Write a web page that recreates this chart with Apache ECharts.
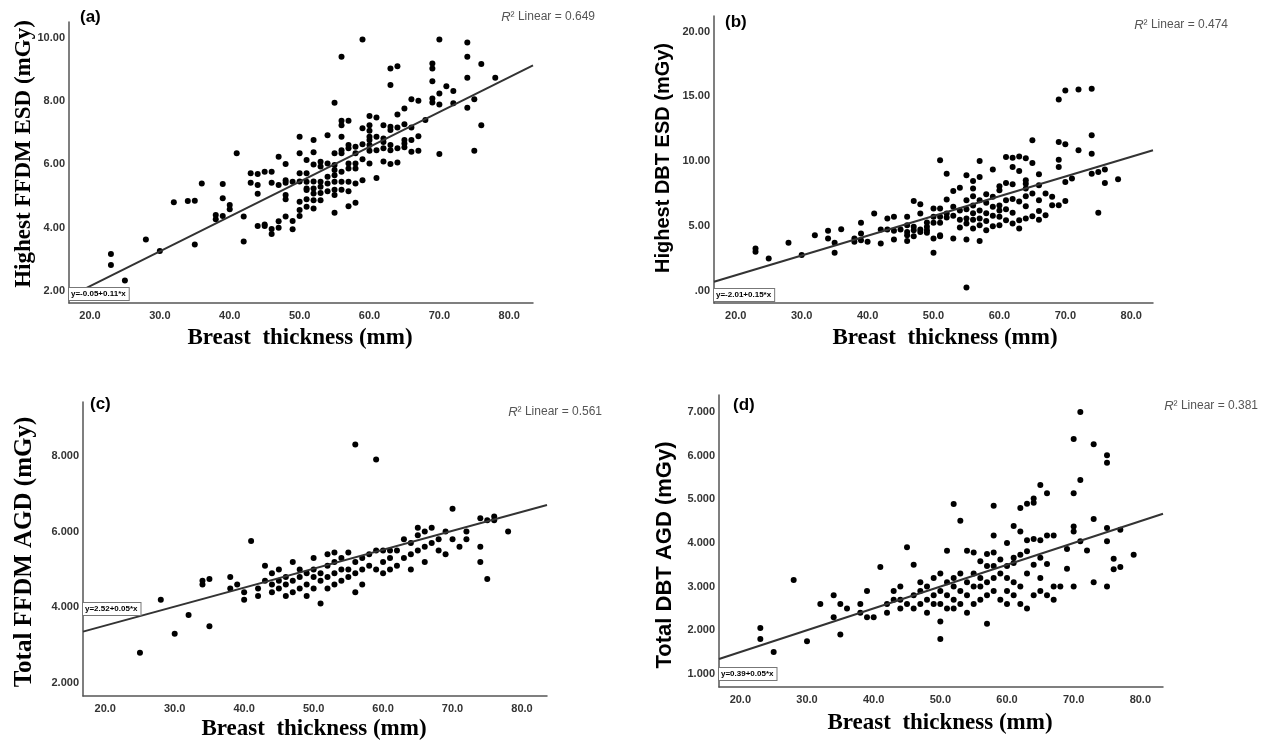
<!DOCTYPE html>
<html>
<head>
<meta charset="utf-8">
<title>Breast thickness vs dose</title>
<script src="https://cdn.jsdelivr.net/npm/echarts@6/dist/echarts.min.js"></script>
<style>
html,body{margin:0;padding:0;background:#fff;}
#main{width:1269px;height:740px;}
</style>
</head>
<body>
<div id="main"></div>
<script>
// tick labels
var xTicks = [20, 30, 40, 50, 60, 70, 80];
var yTicksA = [2, 4, 6, 8, 10];
var yTicksB = [0, 5, 10, 15, 20];
var yTicksC = [2, 4, 6, 8];
var yTicksD = [1, 2, 3, 4, 5, 6, 7];

// (a) Highest FFDM ESD
var pointsA = [
  [23,3.17],[23,2.82],[25,2.33],[28,3.63],[30,3.26],[32,4.80],[34,4.84],[35,4.85],[35,3.47],[36,5.40],
  [38,4.40],[38,4.27],[39,4.37],[39,4.93],[39,5.38],[40,4.72],[40,4.58],[41,6.35],[42,4.35],[42,3.56],
  [43,5.72],[43,5.42],[44,5.70],[44,5.35],[44,5.07],[44,4.05],[45,5.77],[45,4.10],[45,4.05],
  [46,5.77],[46,5.42],[46,3.96],[46,3.80],[47,6.24],[47,5.35],[47,4.00],[47,4.20],
  [48,6.01],[48,5.50],[48,5.42],[48,5.03],[48,4.90],[48,4.35],[49,4.21],[49,3.95],[49,5.45],
  [50,6.87],[50,6.35],[50,5.72],[50,5.46],[50,4.82],[50,4.56],[50,4.37],
  [51,6.14],[51,5.72],[51,5.24],[51,5.19],[51,4.90],[51,4.66],[51,5.45],
  [52,6.77],[52,6.38],[52,6.00],[52,5.46],[52,5.24],[52,5.08],[52,4.87],[52,4.61],
  [53,6.08],[53,5.93],[53,5.45],[53,5.29],[53,4.87],[53,5.10],
  [54,6.92],[54,6.03],[54,5.61],[54,5.40],[54,5.15],
  [55,7.95],[55,6.35],[55,5.98],[55,5.82],[55,5.66],[55,5.45],[55,5.03],[55,4.47],[55,5.20],
  [56,9.40],[56,7.38],[56,7.24],[56,6.87],[56,6.45],[56,6.35],[56,5.77],[56,5.45],[56,5.20],
  [57,7.38],[57,6.61],[57,6.51],[57,6.03],[57,5.87],[57,5.45],[57,4.68],[57,5.15],
  [58,6.56],[58,6.35],[58,6.03],[58,5.87],[58,4.79],[58,5.40],
  [59,9.95],[59,7.14],[59,6.64],[59,6.16],[59,5.50],
  [60,7.53],[60,7.24],[60,7.06],[60,6.87],[60,6.77],[60,6.61],[60,6.43],[60,6.03],
  [61,7.48],[61,6.87],[61,6.45],[61,5.57],
  [62,7.24],[62,6.82],[62,6.71],[62,6.51],[62,6.09],
  [63,9.03],[63,8.51],[63,7.19],[63,7.09],[63,6.61],[63,6.45],[63,6.01],
  [64,9.10],[64,7.58],[64,7.17],[64,6.51],[64,6.06],
  [65,7.77],[65,7.27],[65,6.77],[65,6.66],[65,6.54],
  [66,8.06],[66,7.17],[66,6.77],[66,6.40],
  [67,8.01],[67,6.89],[67,6.43],[68,7.40],
  [69,9.19],[69,9.03],[69,8.63],[69,8.08],[69,7.96],
  [70,9.95],[70,8.24],[70,7.89],[70,6.33],[71,8.47],[72,8.32],[72,7.93],
  [74,9.85],[74,9.40],[74,8.74],[74,7.79],[75,8.06],[75,6.43],[76,9.17],[76,7.24],[78,8.74]
];
var fitA = [[17, 1.82], [83.4, 9.13]];

// (b) Highest DBT ESD
var pointsB = [
  [23,3.28],[23,3.03],[25,2.51],[28,3.72],[30,2.77],[32,4.31],[34,4.64],[34,4.05],[35,3.72],[35,2.95],[36,4.77],
  [38,4.05],[38,3.80],[39,5.26],[39,4.44],[39,3.92],[40,3.80],[41,5.97],[42,3.67],[42,4.74],
  [43,5.59],[43,4.74],[44,5.72],[44,4.64],[44,3.97],[45,4.74],
  [46,5.72],[46,5.08],[46,4.56],[46,4.31],[46,3.85],[47,6.95],[47,4.95],[47,4.69],[47,4.23],
  [48,6.69],[48,5.97],[48,4.74],[48,4.56],[49,5.28],[49,4.95],[49,4.69],[49,4.49],
  [50,6.36],[50,5.72],[50,5.26],[50,4.05],[50,2.95],[51,10.08],[51,6.36],[51,5.72],[51,5.26],[51,4.23],[51,4.31],
  [52,9.05],[52,7.05],[52,5.97],[52,5.67],[53,7.72],[53,6.50],[53,5.80],[53,4.05],
  [54,7.97],[54,6.20],[54,5.50],[54,4.90],[55,8.92],[55,7.00],[55,6.30],[55,5.60],[55,5.20],[55,3.97],[55,0.28],
  [56,8.49],[56,7.90],[56,7.30],[56,6.60],[56,6.00],[56,5.50],[56,4.82],
  [57,10.03],[57,8.79],[57,7.00],[57,6.20],[57,5.60],[57,5.08],[57,3.85],
  [58,7.46],[58,6.80],[58,6.00],[58,5.40],[58,4.69],[59,9.36],[59,7.26],[59,6.50],[59,5.80],[59,5.00],
  [60,8.08],[60,7.77],[60,6.60],[60,6.20],[60,5.72],[60,5.08],
  [61,10.33],[61,8.33],[61,7.00],[61,6.30],[61,5.46],[62,10.28],[62,9.56],[62,8.23],[62,7.10],[62,6.03],[62,5.20],
  [63,10.38],[63,9.26],[63,6.90],[63,5.46],[63,4.82],[64,10.23],[64,8.54],[64,8.28],[64,7.90],[64,7.31],[64,6.54],[64,5.60],
  [65,11.62],[65,9.87],[65,7.51],[65,5.77],[66,9.00],[66,8.15],[66,7.00],[66,6.18],[66,5.50],
  [67,7.51],[67,5.85],[68,7.26],[68,6.62],[69,14.77],[69,11.49],[69,10.13],[69,9.56],[69,6.62],
  [70,15.46],[70,11.31],[70,8.41],[70,6.95],[71,8.67],[72,15.54],[72,10.85],
  [74,15.59],[74,12.00],[74,10.59],[74,9.05],[75,9.18],[75,6.03],[76,9.36],[76,8.33],[78,8.62]
];
var fitB = [[16.7, 0.72], [83.3, 10.85]];

// (c) Total FFDM AGD
var pointsC = [
  [23,4.05],[25,2.80],[28,4.20],[30,3.30],[32,3.80],[34,4.70],[34,4.60],[35,4.75],[35,3.50],[38,4.50],[38,4.80],
  [39,4.60],[40,4.20],[40,4.40],[41,5.75],[42,4.30],[42,4.50],[43,5.10],[43,4.70],[44,4.40],[44,4.60],[44,4.90],
  [45,4.50],[45,4.70],[45,5.00],[46,4.30],[46,4.60],[46,4.80],[47,4.40],[47,4.70],[47,5.20],[48,4.50],[48,4.80],
  [48,5.00],[49,4.60],[49,4.90],[49,4.30],[50,4.50],[50,4.80],[50,5.00],[50,5.30],[51,4.10],[51,4.70],[51,4.90],
  [52,4.50],[52,4.80],[52,5.10],[52,5.40],[53,4.60],[53,4.90],[53,5.20],[53,5.45],[54,4.70],[54,5.00],[54,5.30],
  [55,4.80],[55,5.00],[55,5.45],[56,8.30],[56,4.90],[56,5.20],[56,4.40],[57,5.00],[57,5.30],[57,4.60],[58,5.10],
  [58,5.40],[59,7.90],[59,5.00],[59,5.50],[60,5.20],[60,5.50],[60,4.90],[61,5.30],[61,5.50],[61,5.00],[62,5.10],
  [62,5.50],[63,5.30],[63,5.80],[64,5.40],[64,5.70],[64,5.00],[65,5.50],[65,5.90],[65,6.10],[66,5.60],[66,6.00],
  [66,5.20],[67,5.70],[67,6.10],[68,5.50],[68,5.80],[69,6.00],[69,5.40],[70,6.60],[70,5.80],[71,5.60],[72,6.00],
  [72,5.80],[74,6.35],[74,5.20],[74,5.60],[75,6.30],[75,4.75],[76,6.40],[76,6.30],[78,6.00]
];
var fitC = [[16.8, 3.36], [83.6, 6.70]];

// (d) Total DBT AGD
var pointsD = [
  [23,2.05],[23,1.80],[25,1.50],[28,3.15],[30,1.75],[32,2.60],[34,2.80],[34,2.30],[35,2.60],[35,1.90],[36,2.50],
  [38,2.40],[38,2.60],[39,2.30],[39,2.90],[40,2.30],[41,3.45],[42,2.60],[42,2.40],[43,2.70],[43,2.90],[44,2.50],
  [44,2.70],[44,3.00],[45,3.90],[45,2.60],[46,2.50],[46,2.80],[46,3.50],[47,2.60],[47,2.90],[47,3.10],[48,2.40],
  [48,2.70],[48,3.00],[49,2.60],[49,2.80],[49,3.20],[50,1.80],[50,2.20],[50,2.60],[50,2.90],[50,3.30],
  [51,3.82],[51,2.50],[51,2.80],[51,3.10],[52,4.89],[52,2.50],[52,2.70],[52,3.00],[52,3.20],[53,4.51],[53,2.60],
  [53,2.90],[53,3.30],[54,3.82],[54,2.40],[54,2.80],[54,3.10],[55,3.78],[55,2.60],[55,3.00],[55,3.30],
  [56,3.58],[56,2.70],[56,3.00],[56,3.20],[57,3.75],[57,3.47],[57,2.80],[57,3.10],[57,2.15],
  [58,4.85],[58,4.17],[58,3.78],[58,3.47],[58,2.90],[58,3.20],[59,3.62],[59,2.70],[59,3.30],
  [60,4.00],[60,3.47],[60,2.60],[60,2.90],[60,3.20],[61,4.39],[61,3.66],[61,3.54],[61,2.80],[61,3.10],
  [62,4.80],[62,4.26],[62,3.73],[62,2.60],[62,3.00],[63,4.90],[63,4.06],[63,3.81],[63,2.50],[63,3.30],
  [64,5.02],[64,4.92],[64,4.09],[64,2.80],[64,3.50],[65,5.33],[65,4.06],[65,3.66],[65,2.90],[65,3.20],
  [66,5.14],[66,4.17],[66,3.52],[66,2.80],[67,4.17],[67,3.00],[67,2.70],[68,3.00],
  [69,3.86],[69,3.41],[70,6.38],[70,5.14],[70,4.38],[70,4.26],[70,3.00],[71,7.00],[71,5.44],[71,4.04],
  [72,3.83],[73,6.26],[73,4.55],[73,3.10],[75,6.01],[75,5.84],[75,4.34],[75,4.04],[75,3.00],
  [76,3.64],[76,3.40],[77,4.30],[77,3.45],[79,3.73]
];
var fitD = [[16.8, 1.34], [83.4, 4.67]];

var SERIF = '"Liberation Serif","Times New Roman",serif';
var SANS = '"Liberation Sans",Arial,sans-serif';

function xAxisOf(idx, min, max) {
  return {
    type: 'value', gridIndex: idx, min: min, max: max,
    axisLine: {onZero: false, lineStyle: {color: '#555', width: 1.5}},
    axisTick: {show: false},
    splitLine: {show: false},
    axisLabel: {
      customValues: xTicks, color: '#333', fontSize: 11, fontWeight: 'bold', fontFamily: SANS, margin: 7,
      formatter: function (v) { return v.toFixed(1); }
    }
  };
}

function yAxisOf(idx, min, max, ticks, digits, dropZero) {
  return {
    type: 'value', gridIndex: idx, min: min, max: max,
    axisLine: {show: true, onZero: false, lineStyle: {color: '#555', width: 1.5}},
    axisTick: {show: false},
    splitLine: {show: false},
    axisLabel: {
      customValues: ticks, color: '#333', fontSize: 11, fontWeight: 'bold', fontFamily: SANS, margin: 4,
      formatter: function (v) {
        var s = v.toFixed(digits);
        return (dropZero && v === 0) ? s.slice(1) : s;   // SPSS prints ".00"
      }
    }
  };
}

function scatterOf(idx, data) {
  return {
    type: 'scatter', xAxisIndex: idx, yAxisIndex: idx, data: data,
    symbolSize: 6, itemStyle: {color: '#000', opacity: 1}, silent: true
  };
}

function fitOf(idx, data) {
  return {
    type: 'line', xAxisIndex: idx, yAxisIndex: idx, data: data,
    showSymbol: false, silent: true, z: 3,
    lineStyle: {color: '#333', width: 2}
  };
}

// text helpers for graphic layer
function txt(x, y, text, font, align, color) {
  return {type: 'text', x: x, y: y, z: 10,
    style: {text: text, font: font, fill: color || '#000', align: align || 'left', verticalAlign: 'middle'}};
}
function vtxt(x, y, text, font) {
  return {type: 'text', x: x, y: y, rotation: Math.PI / 2, z: 10,
    style: {text: text, font: font, fill: '#000', align: 'center', verticalAlign: 'middle'}};
}
function r2(x, y, value) {
  return {type: 'text', x: x, y: y, z: 10,
    style: {
      text: '{i|R}{n|² Linear = ' + value + '}', align: 'right', verticalAlign: 'middle',
      rich: {
        i: {fontStyle: 'italic', fontSize: 13, fontFamily: SANS, fill: '#555'},
        n: {fontSize: 12, fontFamily: SANS, fill: '#555'}
      }
    }};
}
function eqBox(x, y, text) {
  return {type: 'text', x: x, y: y, z: 10,
    style: {text: text, font: 'bold 8px ' + SANS, fill: '#000', align: 'left', verticalAlign: 'top',
      backgroundColor: '#fff', borderColor: '#777', borderWidth: 1, padding: [2, 3, 2, 2]}};
}

var dom = document.getElementById('main');
var myChart = echarts.init(dom);
myChart.setOption({
  animation: false,
  backgroundColor: '#fff',
  grid: [
    {left: 69, top: 22, width: 464, height: 281},
    {left: 714, top: 16, width: 439, height: 287},
    {left: 83, top: 402, width: 464, height: 294},
    {left: 719, top: 395, width: 444, height: 292}
  ],
  xAxis: [
    xAxisOf(0, 17, 83.4),
    xAxisOf(1, 16.7, 83.3),
    xAxisOf(2, 16.8, 83.6),
    xAxisOf(3, 16.8, 83.4)
  ],
  yAxis: [
    yAxisOf(0, 1.62, 10.5, yTicksA, 2, false),
    yAxisOf(1, -0.92, 21.2, yTicksB, 2, true),
    yAxisOf(2, 1.66, 9.42, yTicksC, 3, false),
    yAxisOf(3, 0.70, 7.39, yTicksD, 3, false)
  ],
  series: [
    scatterOf(0, pointsA), fitOf(0, fitA),
    scatterOf(1, pointsB), fitOf(1, fitB),
    scatterOf(2, pointsC), fitOf(2, fitC),
    scatterOf(3, pointsD), fitOf(3, fitD)
  ],
  graphic: [
    // panel tags
    txt(80, 17, '(a)', 'bold 17px ' + SANS),
    txt(725, 22, '(b)', 'bold 17px ' + SANS),
    txt(90, 404, '(c)', 'bold 17px ' + SANS),
    txt(733, 405, '(d)', 'bold 17px ' + SANS),
    // R square labels
    r2(595, 17, '0.649'),
    r2(1228, 25, '0.474'),
    r2(602, 412, '0.561'),
    r2(1258, 406, '0.381'),
    // fit equations
    eqBox(69, 288, 'y=-0.05+0.11*x'),
    eqBox(714, 289, 'y=-2.01+0.15*x'),
    eqBox(83, 603, 'y=2.52+0.05*x'),
    eqBox(719, 668, 'y=0.39+0.05*x'),
    // axis titles
    vtxt(24, 154, 'Highest FFDM ESD (mGy)', 'bold 23px ' + SERIF),
    vtxt(663, 158, 'Highest DBT ESD (mGy)', 'bold 20px ' + SANS),
    vtxt(25, 552, 'Total FFDM AGD (mGy)', 'bold 25px ' + SERIF),
    vtxt(665, 555, 'Total DBT AGD (mGy)', 'bold 22px ' + SANS),
    txt(300, 338, 'Breast  thickness (mm)', 'bold 23px ' + SERIF, 'center'),
    txt(945, 338, 'Breast  thickness (mm)', 'bold 23px ' + SERIF, 'center'),
    txt(314, 729, 'Breast  thickness (mm)', 'bold 23px ' + SERIF, 'center'),
    txt(940, 723, 'Breast  thickness (mm)', 'bold 23px ' + SERIF, 'center')
  ]
});
window.addEventListener('resize', function () {
  myChart.resize();
});
</script>
</body>
</html>
